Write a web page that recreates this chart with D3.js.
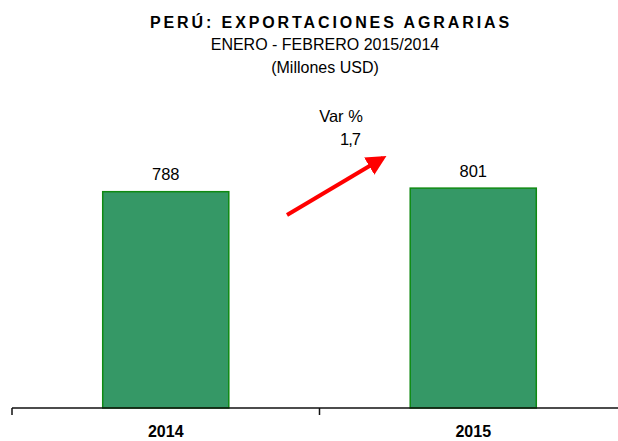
<!DOCTYPE html>
<html>
<head>
<meta charset="utf-8">
<script src="https://cdn.jsdelivr.net/npm/d3@7"></script>
<style>
  html, body { margin: 0; padding: 0; background: #fff; }
  svg { display: block; font-family: "Liberation Sans", Arial, sans-serif; }
</style>
</head>
<body>
<svg id="chart" width="618" height="441"></svg>
<script>
// Agricultural exports, January–February, million USD
const years = ["2014", "2015"];
const exportsValue = [788, 801];
const variationPct = "1,7";

const svg = d3.select("#chart");

const x = d3.scaleBand()
  .domain(years)
  .range([12, 627])
  .paddingInner(0.59)
  .paddingOuter(0.295);

const y = d3.scaleLinear()
  .domain([0, 1000])
  .range([408, 133.5]);

// Titles
svg.append("text")
  .attr("x", 331).attr("y", 28)
  .attr("text-anchor", "middle")
  .style("font-size", "16px").style("font-weight", "bold")
  .style("letter-spacing", "2.9px")
  .attr("fill", "#000")
  .text("PERÚ: EXPORTACIONES AGRARIAS");
svg.append("text")
  .attr("x", 325).attr("y", 50)
  .attr("text-anchor", "middle")
  .style("font-size", "16px").attr("fill", "#000")
  .text("ENERO - FEBRERO 2015/2014");
svg.append("text")
  .attr("x", 325).attr("y", 73)
  .attr("text-anchor", "middle")
  .style("font-size", "16px").attr("fill", "#000")
  .text("(Millones USD)");

// Bars
svg.selectAll("rect.bar")
  .data(years)
  .join("rect")
  .attr("class", "bar")
  .attr("x", d => x(d))
  .attr("y", (d, i) => y(exportsValue[i]))
  .attr("width", x.bandwidth())
  .attr("height", (d, i) => y(0) - y(exportsValue[i]))
  .attr("fill", "#359866")
  .attr("stroke", "#0f8a12")
  .attr("stroke-width", 1.5);

// Value labels
svg.selectAll("text.val")
  .data(years)
  .join("text")
  .attr("class", "val")
  .attr("x", d => x(d) + x.bandwidth() / 2)
  .attr("y", (d, i) => y(exportsValue[i]) - 11.5)
  .attr("text-anchor", "middle")
  .style("font-size", "16.5px").attr("fill", "#000")
  .text((d, i) => exportsValue[i]);

// Category axis with ticks at band boundaries
const axisY = y(0);
svg.append("line")
  .attr("x1", 12).attr("x2", 618)
  .attr("y1", axisY).attr("y2", axisY)
  .attr("stroke", "#111").attr("stroke-width", 1.5);
const boundaries = [x.range()[0], ...years.slice(1).map(d => x(d) - x.step() * x.paddingInner() / 2)];
svg.selectAll("line.tick")
  .data(boundaries)
  .join("line")
  .attr("class", "tick")
  .attr("x1", d => d).attr("x2", d => d)
  .attr("y1", axisY).attr("y2", axisY + 7)
  .attr("stroke", "#111").attr("stroke-width", 1.5);
svg.selectAll("text.cat")
  .data(years)
  .join("text")
  .attr("class", "cat")
  .attr("x", d => x(d) + x.bandwidth() / 2)
  .attr("y", 437)
  .attr("text-anchor", "middle")
  .style("font-size", "16px").style("font-weight", "bold").attr("fill", "#000")
  .text(d => d);

// Variation annotation with red arrow
svg.append("defs").append("marker")
  .attr("id", "head")
  .attr("viewBox", "0 0 10 10")
  .attr("refX", 8).attr("refY", 5)
  .attr("markerWidth", 5).attr("markerHeight", 5)
  .attr("orient", "auto")
  .append("path")
  .attr("d", "M0,0 L10,5 L0,10 Z")
  .attr("fill", "#ff0000");
svg.append("line")
  .attr("x1", 287).attr("y1", 215)
  .attr("x2", 383).attr("y2", 158)
  .attr("stroke", "#ff0000").attr("stroke-width", 4)
  .attr("marker-end", "url(#head)");
svg.append("text")
  .attr("x", 341).attr("y", 122)
  .attr("text-anchor", "middle")
  .style("font-size", "16.5px").attr("fill", "#000")
  .text("Var %");
svg.append("text")
  .attr("x", 350).attr("y", 145)
  .attr("text-anchor", "middle")
  .style("font-size", "16.5px").style("letter-spacing", "-1px").attr("fill", "#000")
  .text(variationPct);
</script>
</body>
</html>
